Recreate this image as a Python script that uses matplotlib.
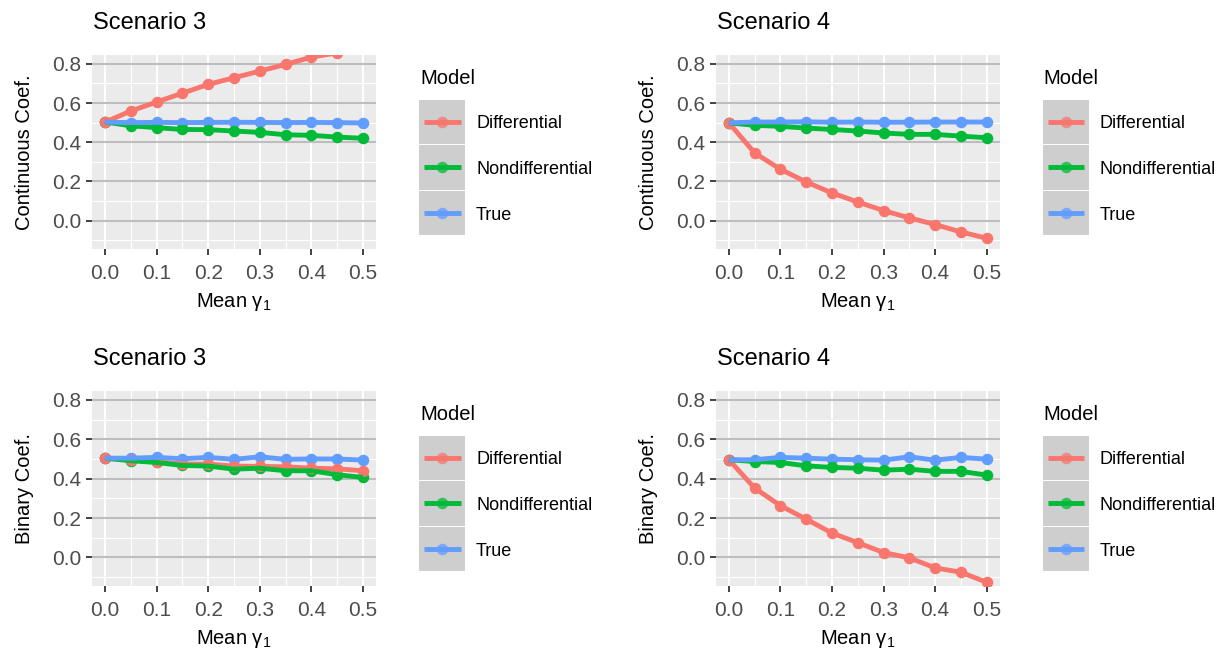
import matplotlib
matplotlib.use("Agg")
import matplotlib.pyplot as plt
from matplotlib.patches import Rectangle
from matplotlib.lines import Line2D
import numpy as np

plt.rcParams['font.family'] = ['Liberation Sans', 'DejaVu Sans']
plt.rcParams['mathtext.fontset'] = 'custom'
plt.rcParams['mathtext.rm'] = 'Liberation Sans'
plt.rcParams['mathtext.it'] = 'Liberation Sans:italic'

# ---------------- data ----------------
mean_gamma = [0.0, 0.05, 0.1, 0.15, 0.2, 0.25, 0.3, 0.35, 0.4, 0.45, 0.5]
models = ["Differential", "Nondifferential", "True"]
model_colors = ["#F8766D", "#00BA38", "#619CFF"]

cont_s3_diff = [0.502, 0.559, 0.605, 0.650, 0.695, 0.729, 0.763, 0.797, 0.834, 0.856, 0.885]
cont_s3_nondiff = [0.503, 0.484, 0.474, 0.465, 0.464, 0.457, 0.450, 0.438, 0.435, 0.426, 0.420]
cont_s3_true = [0.502, 0.500, 0.501, 0.500, 0.501, 0.502, 0.501, 0.500, 0.501, 0.500, 0.498]

cont_s4_diff = [0.499, 0.345, 0.262, 0.197, 0.141, 0.095, 0.051, 0.014, -0.020, -0.058, -0.090]
cont_s4_nondiff = [0.499, 0.486, 0.481, 0.472, 0.465, 0.457, 0.447, 0.440, 0.440, 0.431, 0.423]
cont_s4_true = [0.499, 0.503, 0.503, 0.504, 0.502, 0.503, 0.502, 0.502, 0.503, 0.503, 0.503]

bin_s3_diff = [0.504, 0.494, 0.486, 0.474, 0.474, 0.464, 0.462, 0.460, 0.453, 0.450, 0.440]
bin_s3_nondiff = [0.504, 0.491, 0.482, 0.467, 0.464, 0.448, 0.453, 0.440, 0.440, 0.420, 0.406]
bin_s3_true = [0.504, 0.504, 0.508, 0.501, 0.508, 0.498, 0.511, 0.498, 0.500, 0.500, 0.494]

bin_s4_diff = [0.496, 0.352, 0.263, 0.194, 0.124, 0.075, 0.025, -0.002, -0.053, -0.075, -0.126]
bin_s4_nondiff = [0.496, 0.487, 0.482, 0.465, 0.457, 0.453, 0.443, 0.448, 0.437, 0.437, 0.418]
bin_s4_true = [0.496, 0.496, 0.508, 0.504, 0.499, 0.496, 0.494, 0.511, 0.494, 0.508, 0.499]

panel_titles = ["Scenario 3", "Scenario 4", "Scenario 3", "Scenario 4"]
y_titles = ["Continuous Coef.", "Continuous Coef.", "Binary Coef.", "Binary Coef."]
x_title = r"Mean $\mathregular{γ_1}$"
x_ticks = [0.0, 0.1, 0.2, 0.3, 0.4, 0.5]
x_ticklabels = ["0.0", "0.1", "0.2", "0.3", "0.4", "0.5"]
y_ticks = [0.0, 0.2, 0.4, 0.6, 0.8]
y_ticklabels = ["0.0", "0.2", "0.4", "0.6", "0.8"]

panel_data = [
    [cont_s3_diff, cont_s3_nondiff, cont_s3_true],
    [cont_s4_diff, cont_s4_nondiff, cont_s4_true],
    [bin_s3_diff, bin_s3_nondiff, bin_s3_true],
    [bin_s4_diff, bin_s4_nondiff, bin_s4_true],
]

# ---------------- layout (pixels) ----------------
W, H = 1220, 650
fig = plt.figure(figsize=(W / 100, H / 100), dpi=100)
fig.patch.set_facecolor("white")

panel_boxes = [  # left, top, right, bottom
    (92, 55, 376, 249),
    (716, 55, 999.5, 249),
    (92, 391, 376, 586),
    (716, 391, 999.5, 586),
]

LW = 3.5
MS = 8.3
TICK_FS = 15
TITLE_FS = 17
AX_FS = 14.5
LEG_FS = 13
LEG_TITLE_FS = 14.5

overlay = fig.add_axes([0, 0, 1, 1], zorder=-5)
overlay.set_xlim(0, W)
overlay.set_ylim(H, 0)
overlay.axis("off")

for i, (l, t, r, b) in enumerate(panel_boxes):
    ax = fig.add_axes([l / W, 1 - b / H, (r - l) / W, (b - t) / H])
    ax.set_facecolor("#EBEBEB")
    for s in ax.spines.values():
        s.set_visible(False)
    ax.set_xlim(-0.025, 0.525)
    ax.set_ylim(-0.145, 0.845)
    ax.set_xticks(x_ticks)
    ax.set_xticklabels(x_ticklabels)
    ax.set_yticks(y_ticks)
    ax.set_yticklabels(y_ticklabels)
    ax.set_xticks(np.arange(0.05, 0.5, 0.1), minor=True)
    ax.set_yticks([-0.1, 0.1, 0.3, 0.5, 0.7], minor=True)
    ax.tick_params(which="major", length=4.5, width=1.3, color="#333333",
                   labelsize=TICK_FS, labelcolor="#4D4D4D")
    ax.tick_params(axis="x", which="major", pad=6)
    ax.tick_params(axis="y", which="major", pad=3)
    ax.tick_params(which="minor", length=0)
    ax.grid(which="major", axis="y", color="#BDBDBD", linewidth=1.5)
    ax.grid(which="major", axis="x", color="white", linewidth=1.5)
    ax.grid(which="minor", color="white", linewidth=0.8)
    ax.set_axisbelow(True)

    series = panel_data[i]
    # points first (true, nondiff, diff), then lines on top
    for k in [2, 1, 0]:
        ax.plot(mean_gamma, series[k], linestyle="none", marker="o",
                markersize=MS, color=model_colors[k], markeredgewidth=0, zorder=3)
    for k in [0, 1, 2]:
        ax.plot(mean_gamma, series[k], color=model_colors[k], linewidth=LW,
                solid_capstyle="butt", solid_joinstyle="round", zorder=4)

    ax.set_xlabel(x_title, fontsize=AX_FS, labelpad=6)
    ax.set_ylabel(y_titles[i], fontsize=AX_FS, labelpad=13)
    ax.set_title(panel_titles[i], loc="left", fontsize=TITLE_FS, pad=19, x=0.003)

    # ------- legend -------
    kl = r + 43
    overlay.text(kl + 1, t + 23, "Model", fontsize=LEG_TITLE_FS, va="center", ha="left")
    key_top = t + 44.5
    key_h = 45.8
    key_w = 46
    for k, name in enumerate(models):
        y0 = key_top + k * key_h
        overlay.add_patch(Rectangle((kl, y0), key_w, key_h - 1.5, facecolor="#CECECE",
                                    edgecolor="none"))
        yc = y0 + (key_h - 1.5) / 2
        overlay.add_line(Line2D([kl + 5, kl + key_w - 4.5], [yc, yc], color=model_colors[k],
                                linewidth=LW, solid_capstyle="butt"))
        overlay.plot([kl + key_w / 2], [yc], marker="o", markersize=MS,
                     color=model_colors[k], alpha=0.75, markeredgewidth=0)
        overlay.text(kl + 57, yc + 2, name, fontsize=LEG_FS, va="center", ha="left")

fig.savefig("out.png", dpi=100)
